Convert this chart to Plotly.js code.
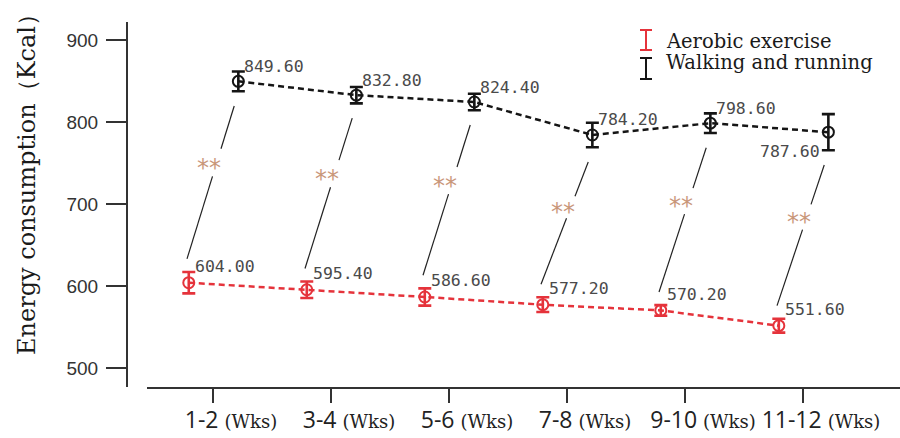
<!DOCTYPE html>
<html>
<head>
<meta charset="utf-8">
<script src="https://cdn.plot.ly/plotly-3.0.1.min.js"></script>
<style>html,body{margin:0;padding:0;background:#fff;}#chart{width:900px;height:438px;}</style>
</head>
<body>
<div id="chart"></div>
<script>
// ---- data ----
const weeks = ['1-2', '3-4', '5-6', '7-8', '9-10', '11-12'];
const aerobic = [604.0, 595.4, 586.6, 577.2, 570.2, 551.6];
const aerobicErr = [13, 10, 10.5, 9, 6.5, 8.5];
const walking = [849.6, 832.8, 824.4, 784.2, 798.6, 787.6];
const walkingErr = [12, 10, 10, 15, 12, 22];
const significance = ['**', '**', '**', '**', '**', '**'];
const yTickVals = [500, 600, 700, 800, 900];
const seriesNames = ['Aerobic exercise', 'Walking and running'];

// ---- style ----
const RED = '#e5333b';
const BLACK = '#151515';
const SIG = '#c9977a';
const offR = -0.205, offB = 0.215;
const L = 127, R = 900, T = 22, B = 387;
const px2x = p => (p - L) / (R - L);
const py2y = p => (B - p) / (B - T);

const idx = weeks.map((_, i) => i);
const xR = idx.map(i => i + offR);
const xB = idx.map(i => i + offB);

function trace(name, x, y, err, color) {
  return {
    type: 'scatter', mode: 'lines+markers', name: name, x: x, y: y,
    showlegend: false, cliponaxis: false,
    line: {color: color, width: 2.5, dash: '6px,4px'},
    marker: {symbol: 'circle-open', size: 11, color: color, line: {width: 2, color: color}},
    error_y: {type: 'data', array: err, visible: true, color: color, thickness: 2.6, width: 6.5}
  };
}

const data = [
  trace(seriesNames[0], xR, aerobic, aerobicErr, RED),
  trace(seriesNames[1], xB, walking, walkingErr, BLACK)
];

const annotations = [];
const shapes = [];
const labelFont = {family: 'DejaVu Sans Mono', size: 16.5, color: '#4a4a4a'};

// value labels
aerobic.forEach((v, i) => {
  annotations.push({x: xR[i], y: v, xref: 'x', yref: 'y', text: v.toFixed(2),
    showarrow: false, xanchor: 'left', yanchor: 'middle', xshift: 4, yshift: 16, font: labelFont});
});
walking.forEach((v, i) => {
  const last = i === walking.length - 1;
  annotations.push({x: xB[i], y: v, xref: 'x', yref: 'y', text: v.toFixed(2),
    showarrow: false, xanchor: last ? 'right' : 'left', yanchor: 'middle',
    xshift: last ? -6 : 4, yshift: last ? -19 : 15, font: labelFont});
});

// significance connectors with "**"
const gapLo = 0.54, gapHi = 0.72;
significance.forEach((s, i) => {
  const x0 = xR[i] - 0.015, y0 = aerobic[i] + aerobicErr[i] + 16;
  const x1 = xB[i] - 0.035, y1 = walking[i] - walkingErr[i] - 18;
  const at = f => [x0 + (x1 - x0) * f, y0 + (y1 - y0) * f];
  const a = at(gapLo), b = at(gapHi), m = at((gapLo + gapHi) / 2);
  const ln = {type: 'line', xref: 'x', yref: 'y', line: {color: '#222', width: 1.2}};
  shapes.push(Object.assign({}, ln, {x0: x0, y0: y0, x1: a[0], y1: a[1]}));
  shapes.push(Object.assign({}, ln, {x0: b[0], y0: b[1], x1: x1, y1: y1}));
  annotations.push({x: m[0], y: m[1], xref: 'x', yref: 'y', text: s, showarrow: false,
    xanchor: 'center', yanchor: 'middle', xshift: -8, yshift: -5,
    font: {family: 'DejaVu Sans', size: 24, color: SIG}});
});

// legend (I-beam symbols + labels)
const legendItems = [{name: seriesNames[0], color: RED, top: 30, bot: 50, textY: 41},
                     {name: seriesNames[1], color: BLACK, top: 58, bot: 79, textY: 63}];
legendItems.forEach(it => {
  const ps = {type: 'line', xref: 'paper', yref: 'paper', line: {color: it.color, width: 2}};
  shapes.push(Object.assign({}, ps, {x0: px2x(646), x1: px2x(646), y0: py2y(it.top), y1: py2y(it.bot)}));
  shapes.push(Object.assign({}, ps, {x0: px2x(640), x1: px2x(652), y0: py2y(it.top), y1: py2y(it.top)}));
  shapes.push(Object.assign({}, ps, {x0: px2x(640), x1: px2x(652), y0: py2y(it.bot), y1: py2y(it.bot)}));
  annotations.push({x: px2x(664), y: py2y(it.textY), xref: 'paper', yref: 'paper', text: it.name,
    showarrow: false, xanchor: 'left', yanchor: 'middle',
    font: {family: 'DejaVu Serif', size: 19.5, color: '#1a1a1a'}});
});

// y-axis title
annotations.push({x: px2x(27), y: py2y(179), xref: 'paper', yref: 'paper',
  text: 'Energy consumption（Kcal）', textangle: -90, showarrow: false,
  xanchor: 'center', yanchor: 'middle',
  font: {family: 'DejaVu Serif', size: 24, color: '#1a1a1a'}});

const layout = {
  width: 900, height: 438,
  margin: {l: L, r: 900 - R, t: T, b: 438 - B, pad: 0},
  paper_bgcolor: '#fff', plot_bgcolor: '#fff',
  showlegend: false,
  xaxis: {
    domain: [px2x(147), 1], range: [-0.559, 5.822],
    tickmode: 'array', tickvals: idx,
    ticktext: weeks.map(w => w + ' <span style="font-family:DejaVu Serif;font-size:18px">(Wks)</span>'),
    showline: true, linecolor: '#333', linewidth: 2,
    ticks: 'outside', ticklen: 14, tickwidth: 2, tickcolor: '#333',
    ticklabelshift: 18, ticklabelstandoff: -3,
    tickfont: {family: 'Open Sans', size: 23, color: '#222'},
    showgrid: false, zeroline: false, fixedrange: true
  },
  yaxis: {
    anchor: 'free', position: 0,
    range: [476.8, 922], tickmode: 'array', tickvals: yTickVals,
    showline: true, linecolor: '#333', linewidth: 2,
    ticks: 'outside', ticklen: 20, tickwidth: 2, tickcolor: '#333',
    ticklabelstandoff: 4,
    tickfont: {family: 'Liberation Sans', size: 19, color: '#333'},
    showgrid: false, zeroline: false, fixedrange: true
  },
  shapes: shapes,
  annotations: annotations
};

Plotly.newPlot('chart', data, layout, {displayModeBar: false, staticPlot: true});
</script>
</body>
</html>
